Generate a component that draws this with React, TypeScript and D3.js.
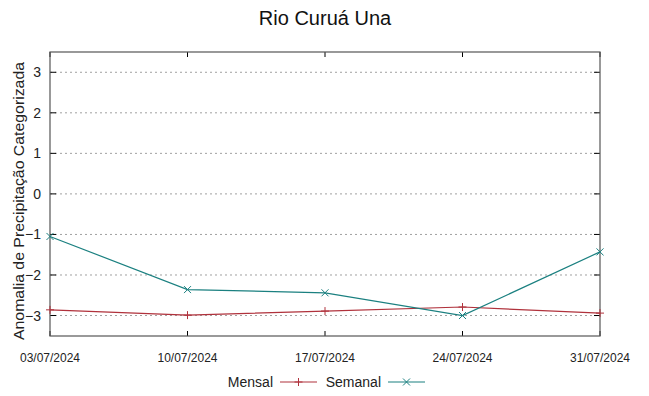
import * as d3 from 'd3';
import { useEffect, useRef } from 'react';

const dates = ['03/07/2024', '10/07/2024', '17/07/2024', '24/07/2024', '31/07/2024'];
const mensal = [-2.86, -2.99, -2.89, -2.79, -2.94];
const semanal = [-1.05, -2.36, -2.44, -3.0, -1.43];
const yTicks = [-3, -2, -1, 0, 1, 2, 3];

const RED = '#b0323c';
const TEAL = '#1b8080';

export default function App() {
  const ref = useRef<HTMLDivElement>(null);

  useEffect(() => {
    const parse = d3.timeParse('%d/%m/%Y');
    const xs = dates.map((d) => parse(d) as Date);

    const margin = { top: 52, right: 49, bottom: 60, left: 50 },
      width = 649 - margin.left - margin.right,
      height = 396 - margin.top - margin.bottom;

    const x = d3.scaleTime()
      .domain(d3.extent(xs) as [Date, Date])
      .range([0, width]);

    const y = d3.scaleLinear()
      .domain([-3.5, 3.5])
      .range([height - 0.2, 0]);

    const root = d3.select(ref.current)
      .html('')
      .append('svg')
      .attr('width', 649)
      .attr('height', 396)
      .style('display', 'block')
      .style('font-family', '"Liberation Sans", Arial, sans-serif');

    root.append('rect').attr('width', 649).attr('height', 396).attr('fill', '#fff');

    root.append('text')
      .attr('x', 325)
      .attr('y', 25)
      .attr('text-anchor', 'middle')
      .attr('font-size', 20)
      .attr('fill', '#111')
      .text('Rio Curuá Una');

    const svg = root.append('g')
      .attr('transform', 'translate(' + margin.left + ',' + margin.top + ')');

    // grid
    svg.selectAll('.grid')
      .data(yTicks)
      .enter().append('line')
      .attr('x1', 0)
      .attr('x2', width)
      .attr('y1', (d) => y(d))
      .attr('y2', (d) => y(d))
      .attr('stroke', '#a0a0a0')
      .attr('stroke-width', 1)
      .attr('stroke-dasharray', '2,3');

    // y ticks (left + mirrored right)
    svg.selectAll('.ytl')
      .data(yTicks)
      .enter().append('line')
      .attr('x1', 0).attr('x2', 6)
      .attr('y1', (d) => y(d)).attr('y2', (d) => y(d))
      .attr('stroke', '#000');
    svg.selectAll('.ytr')
      .data(yTicks)
      .enter().append('line')
      .attr('x1', width - 6).attr('x2', width)
      .attr('y1', (d) => y(d)).attr('y2', (d) => y(d))
      .attr('stroke', '#000');

    svg.selectAll('.ylab')
      .data(yTicks)
      .enter().append('text')
      .attr('x', -9)
      .attr('y', (d) => y(d) + 5)
      .attr('text-anchor', 'end')
      .attr('font-size', 14)
      .attr('fill', '#222')
      .text((d) => d3.format('d')(d));

    // x ticks (bottom + mirrored top)
    svg.selectAll('.xtb')
      .data(xs)
      .enter().append('line')
      .attr('x1', (d) => x(d)).attr('x2', (d) => x(d))
      .attr('y1', height).attr('y2', height - 5)
      .attr('stroke', '#000');
    svg.selectAll('.xtt')
      .data(xs)
      .enter().append('line')
      .attr('x1', (d) => x(d)).attr('x2', (d) => x(d))
      .attr('y1', 0).attr('y2', 5)
      .attr('stroke', '#000');

    svg.selectAll('.xlab')
      .data(dates)
      .enter().append('text')
      .attr('x', (d, i) => x(xs[i]))
      .attr('y', height + 26)
      .attr('text-anchor', 'middle')
      .attr('font-size', 13)
      .attr('textLength', 60)
      .attr('lengthAdjust', 'spacingAndGlyphs')
      .attr('fill', '#222')
      .text((d) => d);

    // border
    svg.append('rect')
      .attr('x', 0).attr('y', 0)
      .attr('width', width).attr('height', height)
      .attr('fill', 'none')
      .attr('stroke', '#555')
      .attr('stroke-width', 1.2);

    // y axis title
    svg.append('text')
      .attr('transform', 'translate(' + (-26) + ',' + (201 - margin.top) + ') rotate(-90)')
      .attr('text-anchor', 'middle')
      .attr('font-size', 15.5)
      .attr('textLength', 278)
      .attr('lengthAdjust', 'spacingAndGlyphs')
      .attr('fill', '#222')
      .text('Anomalia de Precipitação Categorizada');

    const line = d3.line<number>()
      .x((d, i) => x(xs[i]))
      .y((d) => y(d));

    const plus = (g: any, px: number, py: number, color: string) => {
      g.append('path')
        .attr('d', 'M' + (px - 4) + ',' + py + 'H' + (px + 4) + 'M' + px + ',' + (py - 4) + 'V' + (py + 4))
        .attr('stroke', color).attr('stroke-width', 1).attr('fill', 'none');
    };
    const cross = (g: any, px: number, py: number, color: string) => {
      g.append('path')
        .attr('d', 'M' + (px - 3.5) + ',' + (py - 3.5) + 'L' + (px + 3.5) + ',' + (py + 3.5) +
          'M' + (px - 3.5) + ',' + (py + 3.5) + 'L' + (px + 3.5) + ',' + (py - 3.5))
        .attr('stroke', color).attr('stroke-width', 1).attr('fill', 'none');
    };

    svg.append('path')
      .datum(mensal)
      .attr('d', line)
      .attr('fill', 'none')
      .attr('stroke', RED)
      .attr('stroke-width', 1.2);
    mensal.forEach((v, i) => plus(svg, x(xs[i]), y(v), RED));

    svg.append('path')
      .datum(semanal)
      .attr('d', line)
      .attr('fill', 'none')
      .attr('stroke', TEAL)
      .attr('stroke-width', 1.2);
    semanal.forEach((v, i) => cross(svg, x(xs[i]), y(v), TEAL));

    // legend
    const lg = root.append('g').attr('font-size', 14).attr('fill', '#222');
    const items = [
      { name: 'Mensal', color: RED, end: 273, mark: plus },
      { name: 'Semanal', color: TEAL, end: 381, mark: cross },
    ];
    items.forEach((it) => {
      lg.append('text')
        .attr('x', it.end)
        .attr('y', 387)
        .attr('text-anchor', 'end')
        .text(it.name);
      lg.append('line')
        .attr('x1', it.end + 7).attr('x2', it.end + 44)
        .attr('y1', 382).attr('y2', 382)
        .attr('stroke', it.color).attr('stroke-width', 1.2);
      it.mark(lg, it.end + 25.5, 382, it.color);
    });
  }, []);

  return (
    <div style={{ margin: '-8px' }}>
      <div ref={ref}></div>
    </div>
  );
}
